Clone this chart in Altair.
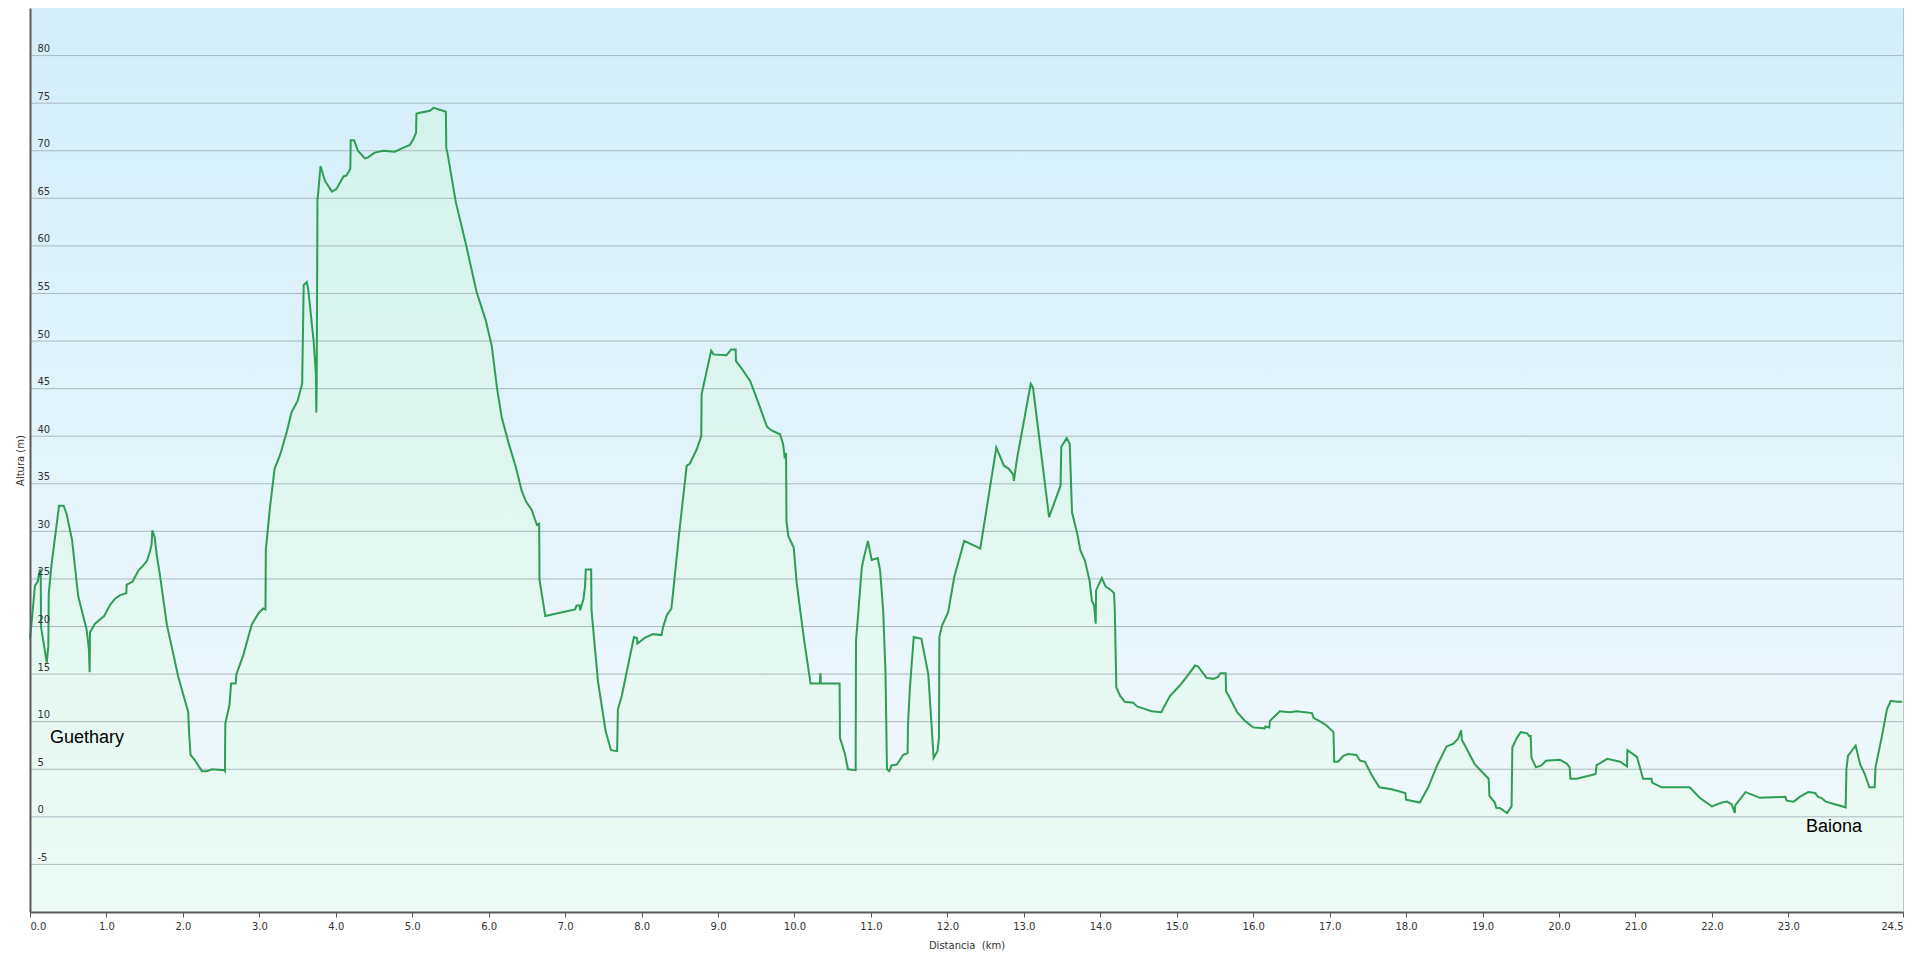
import altair as alt
import pandas as pd

km = [0.00, 0.03, 0.065, 0.10, 0.13, 0.14, 0.145, 0.22, 0.24, 0.245, 0.28, 0.38, 0.44, 0.48, 0.55, 0.63,
      0.74, 0.77, 0.78, 0.785, 0.85, 0.97, 1.05, 1.11, 1.18, 1.26, 1.265, 1.34, 1.42, 1.48, 1.53, 1.57,
      1.59, 1.60, 1.63, 1.66, 1.70, 1.79, 1.94, 2.07, 2.08, 2.10, 2.16, 2.25, 2.31, 2.38, 2.54, 2.55,
      2.555, 2.61, 2.63, 2.69, 2.70, 2.79, 2.90, 2.99, 3.05, 3.08, 3.085, 3.14, 3.20, 3.27, 3.36, 3.42,
      3.50, 3.56, 3.58, 3.62, 3.64, 3.71, 3.74, 3.745, 3.75, 3.76, 3.77, 3.80, 3.86, 3.95, 4.01, 4.10,
      4.14, 4.19, 4.195, 4.24, 4.29, 4.38, 4.42, 4.51, 4.62, 4.77, 4.88, 4.97, 5.02, 5.05, 5.055, 5.10,
      5.23, 5.28, 5.36, 5.44, 5.445, 5.46, 5.57, 5.71, 5.84, 5.96, 6.04, 6.11, 6.17, 6.26, 6.36, 6.43,
      6.49, 6.56, 6.63, 6.66, 6.665, 6.74, 7.13, 7.15, 7.19, 7.195, 7.24, 7.26, 7.27, 7.34, 7.345, 7.43,
      7.53, 7.60, 7.68, 7.69, 7.74, 7.90, 7.94, 7.945, 8.04, 8.15, 8.26, 8.28, 8.33, 8.39, 8.42, 8.49,
      8.59, 8.63, 8.72, 8.78, 8.785, 8.91, 8.94, 9.11, 9.17, 9.23, 9.235, 9.31, 9.42, 9.50, 9.64, 9.70,
      9.81, 9.85, 9.87, 9.89, 9.895, 9.92, 9.99, 10.03, 10.12, 10.21, 10.33, 10.34, 10.345, 10.59, 10.595, 10.66,
      10.70, 10.80, 10.805, 10.88, 10.91, 10.96, 11.01, 11.09, 11.12, 11.16, 11.19, 11.21, 11.24, 11.27, 11.34, 11.42,
      11.48, 11.485, 11.51, 11.56, 11.66, 11.75, 11.82, 11.87, 11.89, 11.895, 11.93, 12.01, 12.09, 12.22, 12.43, 12.64,
      12.74, 12.80, 12.86, 12.87, 12.91, 13.09, 13.12, 13.33, 13.48, 13.49, 13.56, 13.60, 13.63, 13.70, 13.74, 13.80,
      13.86, 13.89, 13.92, 13.94, 13.945, 14.02, 14.07, 14.13, 14.18, 14.19, 14.21, 14.26, 14.32, 14.43, 14.48, 14.56,
      14.67, 14.80, 14.83, 14.91, 15.04, 15.13, 15.24, 15.28, 15.39, 15.48, 15.54, 15.57, 15.64, 15.645, 15.70, 15.79,
      15.89, 16.00, 16.15, 16.16, 16.21, 16.22, 16.35, 16.48, 16.57, 16.77, 16.79, 16.88, 16.96, 17.05, 17.06, 17.11,
      17.18, 17.24, 17.35, 17.40, 17.46, 17.55, 17.65, 17.81, 17.99, 18.00, 18.18, 18.29, 18.40, 18.53, 18.62, 18.68,
      18.72, 18.73, 18.90, 19.08, 19.09, 19.16, 19.18, 19.23, 19.32, 19.38, 19.39, 19.45, 19.50, 19.58, 19.61, 19.63,
      19.64, 19.70, 19.77, 19.83, 20.01, 20.10, 20.14, 20.15, 20.23, 20.43, 20.48, 20.49, 20.63, 20.80, 20.89, 20.895,
      20.95, 21.02, 21.10, 21.21, 21.22, 21.34, 21.71, 21.84, 22.00, 22.13, 22.20, 22.26, 22.30, 22.305, 22.44, 22.63,
      22.96, 22.98, 23.07, 23.15, 23.26, 23.35, 23.39, 23.43, 23.49, 23.75, 23.76, 23.78, 23.88, 23.94, 24.00, 24.06,
      24.13, 24.14, 24.22, 24.29, 24.34, 24.42, 24.49]

alt_m = [18.7, 21.2, 24.3, 24.7, 26.0, 25.6, 19.9, 16.2, 18.0, 23.4, 26.4, 32.7, 32.7, 31.8, 29.1, 23.2,
         19.7, 17.7, 15.2, 19.4, 20.3, 21.1, 22.3, 22.9, 23.3, 23.5, 24.4, 24.7, 25.9, 26.4, 26.9, 27.9,
         28.6, 30.1, 29.4, 27.4, 25.4, 20.2, 14.7, 11.0, 9.0, 6.5, 5.9, 4.8, 4.8, 5.0, 4.9, 4.8,
         9.8, 11.8, 14.0, 14.0, 15.0, 17.0, 20.2, 21.4, 21.9, 21.8, 28.1, 32.6, 36.6, 38.0, 40.5, 42.5,
         43.7, 45.5, 55.9, 56.2, 55.4, 50.0, 46.5, 42.5, 45.2, 64.8, 65.6, 68.4, 66.8, 65.7, 66.0, 67.3,
         67.4, 68.1, 71.1, 71.1, 70.0, 69.2, 69.3, 69.8, 70.0, 69.9, 70.3, 70.6, 71.3, 71.9, 73.9, 74.0,
         74.2, 74.5, 74.3, 74.1, 70.3, 69.8, 64.6, 59.9, 55.2, 52.2, 49.5, 45.0, 42.0, 39.3, 36.6, 34.3,
         33.1, 32.3, 30.7, 30.8, 24.9, 21.1, 21.8, 22.2, 22.2, 21.7, 22.9, 24.2, 26.0, 26.0, 21.7, 14.2,
         9.0, 7.0, 6.9, 11.3, 12.7, 18.9, 18.8, 18.2, 18.8, 19.2, 19.1, 19.9, 21.2, 21.9, 24.2, 29.7,
         36.9, 37.1, 38.6, 40.0, 44.4, 49.0, 48.6, 48.5, 49.1, 49.1, 47.9, 47.1, 45.8, 44.1, 41.0, 40.6,
         40.2, 39.2, 37.9, 38.2, 31.1, 29.5, 28.3, 24.5, 18.9, 14.0, 14.0, 15.1, 14.0, 14.0, 8.3, 6.6,
         5.0, 4.9, 18.5, 26.2, 27.3, 29.0, 27.0, 27.2, 25.9, 21.7, 15.3, 5.0, 4.8, 5.4, 5.5, 6.5,
         6.7, 9.7, 13.6, 18.9, 18.7, 15.0, 6.2, 6.9, 8.3, 18.9, 20.1, 21.5, 25.2, 29.0, 28.2, 38.8,
         36.9, 36.6, 36.0, 35.3, 37.6, 45.5, 45.1, 31.5, 34.8, 38.9, 39.8, 39.2, 32.0, 29.7, 28.0, 26.9,
         24.8, 22.7, 22.2, 20.3, 23.8, 25.1, 24.2, 23.9, 23.5, 21.7, 13.6, 12.7, 12.1, 12.0, 11.6, 11.4,
         11.1, 11.0, 11.5, 12.7, 13.8, 14.7, 15.9, 15.8, 14.6, 14.5, 14.7, 15.1, 15.1, 13.2, 12.4, 11.0,
         10.1, 9.4, 9.3, 9.5, 9.4, 10.1, 11.1, 11.0, 11.1, 10.9, 10.4, 10.0, 9.6, 8.9, 5.8, 5.8,
         6.4, 6.6, 6.5, 5.9, 5.8, 4.4, 3.1, 2.9, 2.5, 1.8, 1.5, 3.1, 5.3, 7.4, 7.7, 8.2,
         9.1, 8.1, 5.5, 4.0, 2.2, 1.5, 0.95, 0.9, 0.4, 1.1, 7.3, 8.3, 8.9, 8.8, 8.5, 8.5,
         6.2, 5.2, 5.4, 5.9, 6.0, 5.6, 5.2, 4.0, 4.0, 4.4, 4.5, 5.4, 6.1, 5.8, 5.3, 7.0,
         6.7, 6.3, 4.0, 4.0, 3.6, 3.1, 3.1, 2.0, 1.1, 1.5, 1.6, 1.3, 0.4, 1.2, 2.6, 2.0,
         2.1, 1.7, 1.6, 2.1, 2.6, 2.5, 2.1, 2.0, 1.6, 1.0, 5.0, 6.4, 7.5, 5.5, 4.5, 3.1,
         3.1, 5.2, 8.3, 11.3, 12.2, 12.1, 12.1]

x_ticks = [float(v) for v in range(0, 24)] + [24.5]
y_ticks = [-5, 0, 5, 10, 15, 20, 25, 30, 35, 40, 45, 50, 55, 60, 65, 70, 75, 80]

place_names = ["Guethary", "Baiona"]
place_km = [0.26, 23.23]
place_m = [8.3, -1.1]

W, H = 1873, 904
Y_MIN, Y_MAX = -10, 85

df = pd.DataFrame({"km": km, "alt": alt_m})
labels_df = pd.DataFrame({"name": place_names, "km": place_km, "alt": place_m})
grid_df = pd.DataFrame({"alt": y_ticks})

xs = alt.Scale(domain=[0, 24.5], nice=False, zero=False)
ys = alt.Scale(domain=[Y_MIN, Y_MAX], nice=False, zero=False)

x_axis = alt.Axis(values=x_ticks, format=".1f", title="Distancia\u00a0 (km)",
                  grid=False, labelFont="DejaVu Sans", labelFontSize=10, labelColor="#333333",
                  tickColor="#555555", tickSize=5, labelPadding=4,
                  domainColor="#5a5a5a", domainWidth=2, zindex=1,
                  titleFont="DejaVu Sans", titleFontSize=10, titleFontWeight="normal",
                  titleColor="#333333", titleY=33, titleBaseline="middle")
y_axis = alt.Axis(values=y_ticks, title="Altura (m)", grid=False, ticks=False, tickSize=0,
                  labelExpr="'' + datum.value",
                  labelAlign="left", labelBaseline="bottom", labelPadding=-7, labelOffset=-2,
                  labelFont="DejaVu Sans", labelFontSize=10, labelColor="#333333",
                  domainColor="#5a5a5a", domainWidth=2, zindex=1,
                  titleFont="DejaVu Sans", titleFontSize=10, titleFontWeight="normal",
                  titleColor="#333333", titleAngle=270, titleX=-10, titleY=H / 2,
                  titleAlign="center", titleBaseline="middle")

bg = alt.Chart(alt.Data(values=[{"a": 1}])).mark_rect(
    color={"gradient": "linear", "x1": 0, "x2": 0, "y1": 0, "y2": 1,
           "stops": [{"offset": 0, "color": "#d2eef9"},
                     {"offset": 0.6, "color": "#e6f5fb"},
                     {"offset": 1, "color": "#f2fafd"}]}
).encode(x=alt.value(0), x2=alt.value(W), y=alt.value(0), y2=alt.value(H))

area = alt.Chart(df).mark_area(
    fillOpacity=0.35,
    color={"gradient": "linear", "x1": 0, "x2": 0, "y1": 0, "y2": 1,
           "stops": [{"offset": 0, "color": "#cdf8d0"},
                     {"offset": 1, "color": "#e4fde6"}]}
).encode(
    x=alt.X("km:Q", scale=xs, axis=x_axis),
    y=alt.Y("alt:Q", scale=ys, axis=y_axis),
    y2=alt.datum(Y_MIN),
)

grid = alt.Chart(grid_df).mark_rule(color="#abbac0", strokeWidth=1).encode(
    y=alt.Y("alt:Q", scale=ys),
)

line = alt.Chart(df).mark_line(color="#2e9d55", strokeWidth=2).encode(
    x=alt.X("km:Q", scale=xs),
    y=alt.Y("alt:Q", scale=ys),
)

names = alt.Chart(labels_df).mark_text(
    align="left", baseline="middle", font="Liberation Sans", fontSize=18, color="#000000"
).encode(x=alt.X("km:Q", scale=xs), y=alt.Y("alt:Q", scale=ys), text="name:N")

chart = alt.layer(bg, area, grid, line, names).properties(
    width=W, height=H,
    autosize=alt.AutoSizeParams(type="none"),
    padding={"left": 22, "top": 0, "right": 5, "bottom": 40},
).configure_view(stroke="#b8c4c8", strokeWidth=1)

chart.save("out.html", embed_options={"renderer": "svg", "actions": False})
